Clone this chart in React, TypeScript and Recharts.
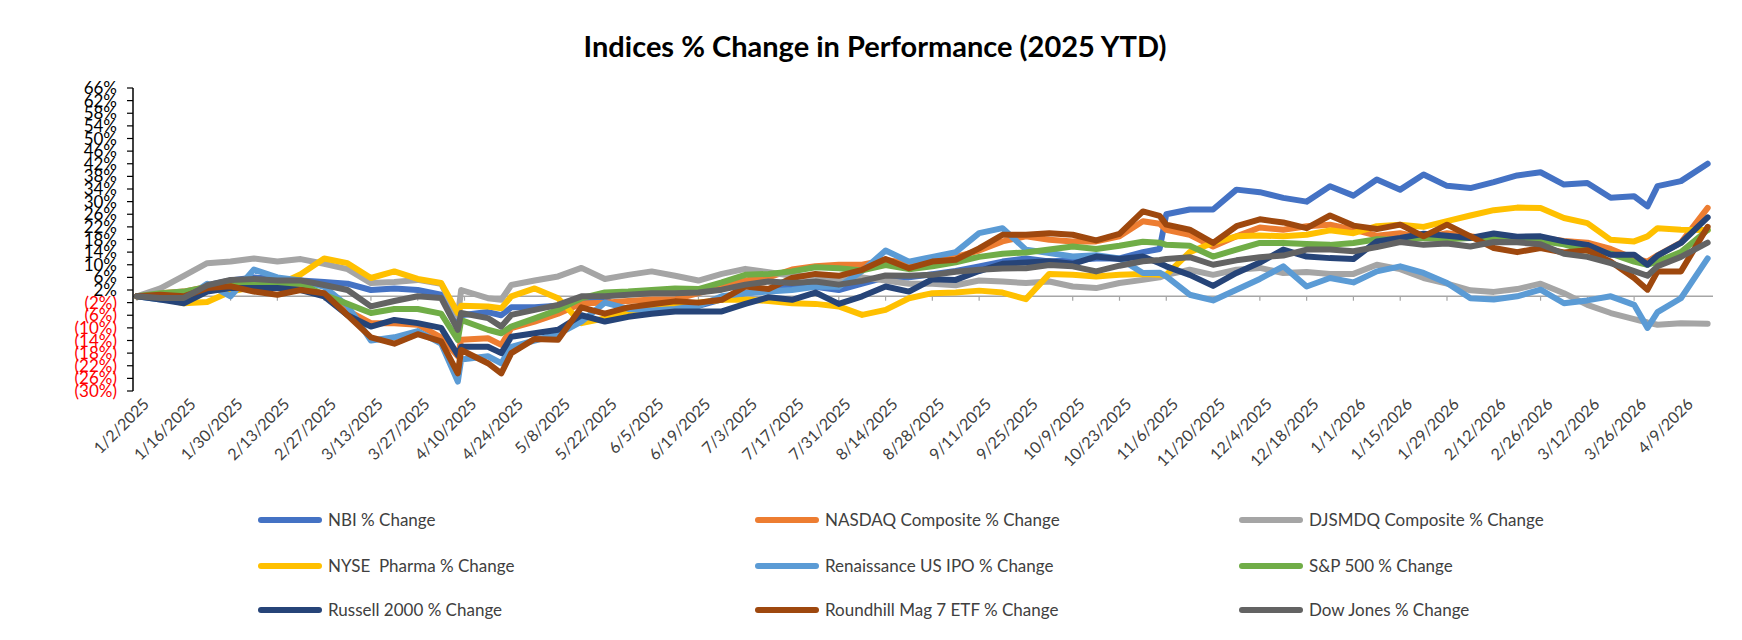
import React from 'react';
import { LineChart, Line, XAxis, YAxis, ReferenceLine } from 'recharts';

const dates = [
  '1/2/2025', '1/9/2025', '1/16/2025', '1/23/2025', '1/30/2025', '2/6/2025', '2/13/2025', '2/20/2025',
  '2/27/2025', '3/6/2025', '3/13/2025', '3/20/2025', '3/27/2025', '4/3/2025', '4/8/2025', '4/9/2025',
  '4/17/2025', '4/21/2025', '4/24/2025', '5/1/2025', '5/8/2025', '5/15/2025', '5/22/2025', '5/29/2025',
  '6/5/2025', '6/12/2025', '6/19/2025', '6/26/2025', '7/3/2025', '7/10/2025', '7/17/2025', '7/24/2025',
  '7/31/2025', '8/7/2025', '8/14/2025', '8/21/2025', '8/28/2025', '9/4/2025', '9/11/2025', '9/18/2025',
  '9/25/2025', '10/2/2025', '10/9/2025', '10/16/2025', '10/23/2025', '10/30/2025', '11/4/2025', '11/6/2025', '11/13/2025',
  '11/20/2025', '11/27/2025', '12/4/2025', '12/11/2025', '12/18/2025', '12/25/2025', '1/1/2026', '1/8/2026',
  '1/15/2026', '1/22/2026', '1/29/2026', '2/5/2026', '2/12/2026', '2/19/2026', '2/26/2026', '3/5/2026',
  '3/12/2026', '3/19/2026', '3/26/2026', '3/30/2026', '4/2/2026', '4/9/2026', '4/17/2026',
];

const nbi = [
  0, 0.5, -0.5, 3.5, 5, 6, 5.5, 5, 4.5, 4, 2, 2.5, 2, 0.5, -10, -6,
  -5, -6, -3.5, -3.5, -3, -2, -1, -5, -4.5, -3.5, -3, -1, 1, 2, 3, 3,
  2, 4, 6, 6, 7, 8, 9.5, 11, 12, 11, 11.5, 12, 12, 14, 15, 26, 27.5,
  27.5, 33.8, 33, 31.2, 30, 34.9, 31.9, 37, 33.8, 38.6, 35, 34.3, 36.2, 38.3,
  39.3, 35.4, 35.9, 31.2, 31.7, 28.5, 34.9, 36.5, 42,
];

const nasdaq = [
  0, 1, 1.5, 3, 3, 4, 4, 3, 0.5, -4.5, -8.5, -8.5, -9, -13, -19, -13.8,
  -13.3, -15.4, -10.1, -8, -5.5, -2.3, -2, -1.5, -1, -1, 1, 3, 5, 6, 8.5, 9.5,
  10, 10, 11.5, 10.5, 12, 12.5, 14.5, 17.4, 19, 17.9, 17.4, 17.4, 19, 23.8, 23, 21.1, 19.5,
  15.8, 19, 21.8, 21.1, 22.2, 22.7, 21.1, 19.2, 20, 18.5, 20, 19, 18, 18,
  18.5, 17.5, 17, 15, 12, 11, 13, 17, 28,
];

const djsmdq = [
  0, 2.5, 6.5, 10.5, 11, 12, 11, 11.8, 10.3, 8.6, 4.2, 4.5, 5.2, 4, -6.4, 2,
  -0.6, -1.1, 3.6, 5, 6.3, 9, 5.5, 6.8, 7.9, 6.5, 5, 7.1, 8.7, 7.6, 6.5, 6.5,
  5, 6, 5, 4, 4, 3.5, 5, 4.7, 4.2, 4.7, 3.1, 2.6, 4.2, 5.2, 6, 6.8, 8.4,
  6.8, 8.4, 9, 7.4, 7.7, 7.1, 7.1, 10, 8.6, 5.8, 4, 1.9, 1.4, 2.3,
  4, 1, -2.7, -5.3, -7.2, -8.3, -9, -8.5, -8.7,
];

const nysePharma = [
  0, -0.5, -2.2, -1.8, 1.5, 3, 3.5, 7, 12, 10.5, 5.8, 7.9, 5.5, 4.2, -5.3, -3,
  -3.2, -3.8, 0, 2.5, -0.6, -8.5, -7, -4.8, -4, -3, -2, -1.1, -1, -1.5, -2.2, -2.4,
  -3.2, -5.9, -4.3, -0.6, 1, 1.2, 1.8, 1.2, -0.9, 7.1, 6.8, 6.3, 6.8, 7.1, 6.8, 6.8, 14,
  17, 19, 19.3, 19, 19.5, 20.9, 20, 22.2, 22.7, 22, 23.8, 25.6, 27.3, 28.1,
  28, 24.8, 23.2, 17.9, 17.4, 19, 21.6, 21.1, 21,
];

const ipo = [
  0, -1, -1, 4, 0, 8.5, 6, 5, 3, -3, -14, -13, -11, -15, -27, -20,
  -19, -21.2, -16, -14, -12, -8, -2, -4, -4.5, -4, -3, 0, 1, 1.5, 2, 3,
  3, 8, 14.5, 11, 12.5, 14, 20, 21.6, 14.8, 13.7, 12.6, 13, 12, 7.4, 7.5, 6.3, 0.5,
  -1.3, 2.1, 5.5, 9.5, 3.1, 5.8, 4.4, 7.9, 9.5, 7.4, 4.2, -0.6, -1, 0,
  2.1, -2.2, -1.3, 0, -2.7, -10, -5, -0.6, 12,
];

const sp500 = [
  0, 1, 1.5, 3, 3.5, 4, 4, 4, 0.5, -2.4, -5.3, -4, -4, -5.5, -13.8, -7.5,
  -10.6, -11.7, -9.6, -7, -4.3, -0.6, 1.2, 1.5, 2, 2.5, 2.3, 4.4, 6.8, 7.1, 7.9, 9.2,
  8.9, 8.2, 9.9, 8.6, 9.5, 10.8, 12.5, 13.5, 13.9, 14.8, 15.8, 15, 16, 17.3, 17, 16.3, 16,
  12.6, 14.8, 16.9, 16.9, 16.6, 16.3, 16.9, 18.1, 17.9, 18.5, 18.1, 18.5, 18.5, 18,
  17.5, 16.5, 14.5, 13.5, 11, 10, 11, 14, 21,
];

const russell = [
  0, -1, -2.2, 1.5, 2.6, 2.6, 2.6, 2, 0, -6, -9.6, -7.5, -8.5, -10, -18.6, -16,
  -16, -18, -12.8, -11.7, -10.6, -6, -8, -6.5, -5.5, -4.8, -4.8, -4.8, -2.4, -0.3, -1.1, 1.2,
  -2.4, 0, 3.1, 1.5, 5.4, 5.2, 8, 10.3, 10.7, 11.1, 10.3, 12.6, 11.8, 12.6, 10.5, 9.5, 6.8,
  3.3, 7.4, 10.7, 14.8, 12.6, 12.1, 11.8, 17.4, 18.5, 19.8, 19.2, 18.5, 19.9, 18.9,
  19, 17.4, 16.3, 13.2, 13.2, 10, 12.9, 16.9, 25,
];

const mag7 = [
  0, 0.5, 0, 2.6, 3.2, 1.5, 0.5, 2, 1, -6, -13, -15, -12, -14.3, -24.4, -17,
  -21.2, -24.4, -18, -13.5, -13.8, -3.5, -5.5, -3.5, -2.5, -1.6, -2, -1.1, 3.1, 2.3, 5.8, 7.1,
  6.5, 8.4, 11.8, 8.9, 11, 11.6, 15.2, 19.5, 19.5, 20, 19.5, 17.7, 19.8, 26.9, 25.5, 22.7, 21.1,
  16.9, 22.2, 24.4, 23.4, 21.6, 25.6, 22.4, 21.3, 22.7, 19, 22.7, 19, 15.3, 14,
  15.3, 13.9, 14.6, 11, 5.8, 2.1, 7.9, 7.9, 22,
];

const dow = [
  0, -0.5, -0.5, 3.5, 5.2, 5.5, 5, 5, 3.6, 2, -3.2, -1.5, 0, -0.5, -10.6, -5.3,
  -6.9, -9.6, -5.9, -4.3, -2.7, 0, 0, 0.5, 1, 1, 1.2, 2.1, 3.7, 4.7, 4.2, 4.7,
  3.7, 4.9, 6.6, 6.5, 6.8, 7.8, 8.4, 8.8, 8.9, 9.9, 9.5, 7.9, 9.7, 11.1, 11.5, 11.8, 12.4,
  10, 11.4, 12.4, 12.9, 14.8, 14.8, 14.3, 15.6, 17.2, 16.3, 16.7, 15.8, 17.2, 17.1,
  16.5, 13.5, 12.5, 10.5, 8, 6.5, 9.5, 12.5, 17,
];

const tickLabels = [
  '1/2/2025', '1/16/2025', '1/30/2025', '2/13/2025', '2/27/2025', '3/13/2025', '3/27/2025', '4/10/2025',
  '4/24/2025', '5/8/2025', '5/22/2025', '6/5/2025', '6/19/2025', '7/3/2025', '7/17/2025', '7/31/2025',
  '8/14/2025', '8/28/2025', '9/11/2025', '9/25/2025', '10/9/2025', '10/23/2025', '11/6/2025', '11/20/2025',
  '12/4/2025', '12/18/2025', '1/1/2026', '1/15/2026', '1/29/2026', '2/12/2026', '2/26/2026', '3/12/2026',
  '3/26/2026', '4/9/2026',
];

const yTicks = [-30, -26, -22, -18, -14, -10, -6, -2, 2, 6, 10, 14, 18, 22, 26, 30, 34, 38, 42, 46, 50, 54, 58, 62, 66];

const seriesNames = [
  'NBI % Change', 'NASDAQ Composite % Change', 'DJSMDQ Composite % Change',
  'NYSE  Pharma % Change', 'Renaissance US IPO % Change', 'S&P 500 % Change',
  'Russell 2000 % Change', 'Roundhill Mag 7 ETF % Change', 'Dow Jones % Change',
];
const seriesColors = ['#4472C4', '#ED7D31', '#A5A5A5', '#FFC000', '#5B9BD5', '#70AD47', '#264478', '#9E480E', '#636363'];
const seriesValues = [nbi, nasdaq, djsmdq, nysePharma, ipo, sp500, russell, mag7, dow];

function dayIndex(s: string): number {
  const [m, d, y] = s.split('/').map(Number);
  return Math.round((Date.UTC(y, m - 1, d) - Date.UTC(2025, 0, 2)) / 86400000);
}

const data = dates.map((d, i) => {
  const row: Record<string, number> = { day: dayIndex(d) };
  seriesValues.forEach((vals, k) => {
    row['s' + k] = vals[i];
  });
  return row;
});

const tickDays = tickLabels.map(dayIndex);
const labelByDay: Record<number, string> = {};
tickLabels.forEach((l, i) => {
  labelByDay[tickDays[i]] = l;
});

const FONT = 'Lato, "Noto Sans", sans-serif';

const XTick = (props: any) => {
  const { x, y, payload } = props;
  const ax = x + 5;
  const ay = y + 6;
  return (
    <text
      x={ax}
      y={ay}
      transform={`rotate(-45 ${ax} ${ay})`}
      textAnchor="end"
      dy="0.72em"
      fontSize={16}
      fontFamily={FONT}
      fill="#404040"
    >
      {labelByDay[payload.value] ?? ''}
    </text>
  );
};

const YTick = (props: any) => {
  const { x, y, payload } = props;
  const v = payload.value as number;
  const neg = v < 0;
  return (
    <text x={x} y={y} dy="0.36em" textAnchor="end" fontSize={17} fontFamily={FONT} fill={neg ? '#FF0000' : '#000000'}>
      {neg ? `(${-v}%)` : `${v}%`}
    </text>
  );
};

const legendCols = [258, 755, 1239];
const legendRows = [520, 566, 610];

export default function App() {
  return (
    <div style={{ position: 'absolute', left: 0, top: 0, width: 1742, height: 640, background: '#fff', fontFamily: FONT }}>
      <div
        style={{
          position: 'absolute',
          left: 4,
          top: 29,
          width: 1742,
          textAlign: 'center',
          fontSize: 29,
          fontWeight: 700,
          lineHeight: '34px',
          color: '#000',
        }}
      >
        Indices % Change in Performance (2025 YTD)
      </div>
      <div style={{ position: 'absolute', left: 0, top: 0 }}>
        <LineChart width={1742} height={470} data={data} margin={{ top: 88, right: 29, bottom: 0, left: 0 }}>
          <XAxis
            dataKey="day"
            type="number"
            domain={[-1.2, 471.6]}
            ticks={tickDays}
            interval={0}
            tick={<XTick />}
            tickLine={false}
            axisLine={false}
            tickSize={0}
            tickMargin={0}
            height={79}
          />
          <YAxis
            type="number"
            domain={[-30, 66]}
            ticks={yTicks}
            interval={0}
            width={133}
            tick={<YTick />}
            tickSize={6}
            tickMargin={10}
            axisLine={{ stroke: '#000', strokeWidth: 1.5 }}
            tickLine={{ stroke: '#000', strokeWidth: 1.2 }}
            allowDataOverflow
          />
          <ReferenceLine y={0} stroke="#A6A6A6" strokeWidth={1.6} />
          {tickDays.map((d) => (
            <ReferenceLine
              key={'t' + d}
              segment={[
                { x: d, y: 0 },
                { x: d, y: -1.4 },
              ]}
              stroke="#A6A6A6"
              strokeWidth={1.2}
            />
          ))}
          {seriesValues.map((_, k) => (
            <Line
              key={k}
              type="linear"
              dataKey={'s' + k}
              name={seriesNames[k]}
              stroke={seriesColors[k]}
              strokeWidth={6}
              strokeLinejoin="round"
              strokeLinecap="round"
              dot={false}
              activeDot={false}
              isAnimationActive={false}
            />
          ))}
        </LineChart>
      </div>
      {seriesNames.map((name, k) => {
        const col = k % 3;
        const row = Math.floor(k / 3);
        const x = legendCols[col];
        const y = legendRows[row];
        return (
          <div key={name} style={{ position: 'absolute', left: x, top: y - 12, height: 24, display: 'flex', alignItems: 'center' }}>
            <div style={{ width: 64, height: 6, borderRadius: 3, background: seriesColors[k] }} />
            <div style={{ marginLeft: 6, fontSize: 17, color: '#404040', whiteSpace: 'pre', lineHeight: '24px' }}>{name}</div>
          </div>
        );
      })}
    </div>
  );
}
